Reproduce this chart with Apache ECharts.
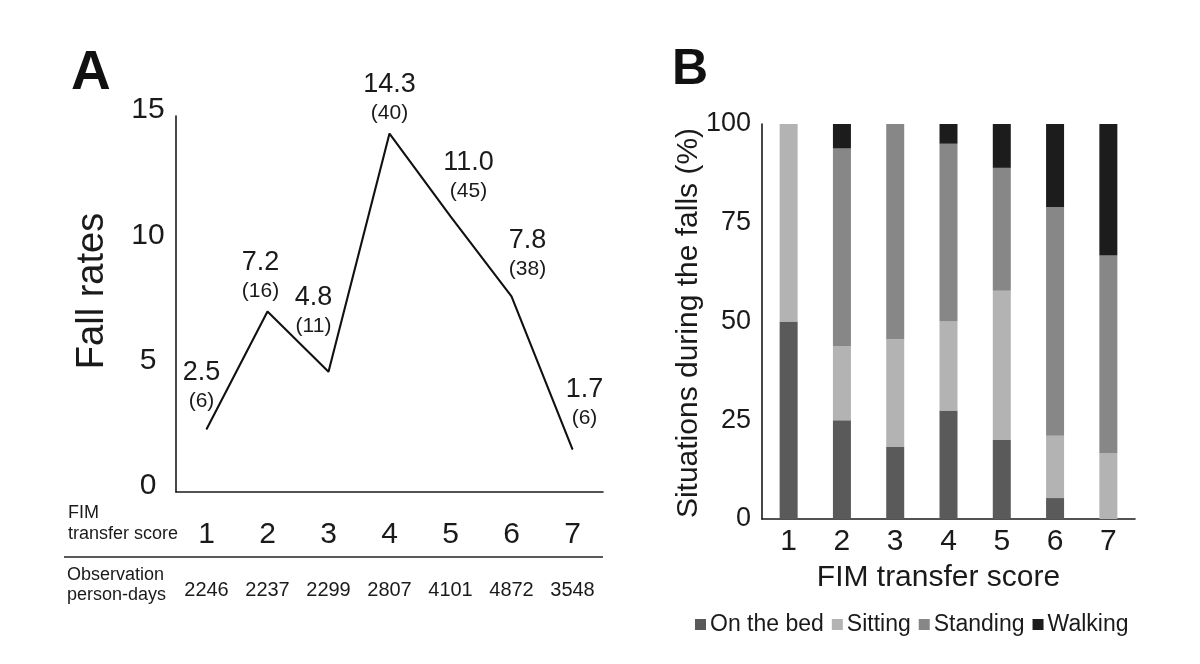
<!DOCTYPE html>
<html>
<head>
<meta charset="utf-8">
<script src="https://cdn.jsdelivr.net/npm/echarts@6/dist/echarts.min.js"></script>
<style>
html,body{margin:0;padding:0;background:#fff;}
#chart{width:1200px;height:664px;}
</style>
</head>
<body>
<div id="chart"></div>
<script>
// ---- Data ----
const categories = ['1', '2', '3', '4', '5', '6', '7'];
const fallRates = [2.5, 7.2, 4.8, 14.3, 11.0, 7.8, 1.7];
const fallCounts = [6, 16, 11, 40, 45, 38, 6];
const personDays = [2246, 2237, 2299, 2807, 4101, 4872, 3548];
const onTheBed = [50, 25, 18.2, 27.5, 20, 5.3, 0];
const sitting = [50, 18.8, 27.3, 22.5, 37.8, 15.8, 16.7];
const standing = [0, 50, 54.5, 45, 31.1, 57.9, 50];
const walking = [0, 6.2, 0, 5, 11.1, 21.0, 33.3];
const seriesNames = ['On the bed', 'Sitting', 'Standing', 'Walking'];

// ---- Styling ----
const FONT = 'Liberation Sans, Arial, sans-serif';
const INK = '#1a1a1a';
const colors = ['#5a5a5a', '#b3b3b3', '#878787', '#1c1c1c'];
const labelNudge = [[-5, -43], [-7, -35], [-15, -60], [0, -35], [18, -40], [16, -42], [12, -46]];

const chart = echarts.init(document.getElementById('chart'));

const option = {
  backgroundColor: '#fff',
  animation: false,
  textStyle: { fontFamily: FONT, color: INK },
  grid: [
    { left: 176, right: 597, top: 116, bottom: 172 },
    { left: 762, right: 65, top: 124, bottom: 145 }
  ],
  xAxis: [
    {
      gridIndex: 0, type: 'category', data: categories, boundaryGap: true,
      axisLine: { lineStyle: { color: INK, width: 1.6 } },
      axisTick: { show: false },
      axisLabel: { fontSize: 30, color: INK, margin: 28, fontFamily: FONT }
    },
    {
      gridIndex: 0, type: 'category', data: personDays.map(String), boundaryGap: true,
      position: 'bottom',
      axisLine: { show: false }, axisTick: { show: false },
      axisLabel: { fontSize: 20, color: INK, margin: 88, fontFamily: FONT }
    },
    {
      gridIndex: 1, type: 'category', data: categories, boundaryGap: true,
      axisLine: { lineStyle: { color: INK, width: 1.6 } },
      axisTick: { show: false },
      axisLabel: { fontSize: 30, color: INK, margin: 8, fontFamily: FONT },
      name: 'FIM transfer score', nameLocation: 'middle', nameGap: 44,
      nameTextStyle: { fontSize: 30, color: INK, fontFamily: FONT, padding: [0, 20, 0, 0] }
    }
  ],
  yAxis: [
    {
      gridIndex: 0, type: 'value', min: 0, max: 15, interval: 5,
      splitLine: { show: false },
      axisLine: { show: true, lineStyle: { color: INK, width: 1.6 } },
      axisTick: { show: false },
      axisLabel: {
        margin: 28, align: 'center',
        formatter: v => '{t|' + v + '}',
        rich: { t: { fontSize: 30, color: INK, fontFamily: FONT, padding: [0, 0, 12, 0] } }
      }
    },
    {
      gridIndex: 1, type: 'value', min: 0, max: 100, interval: 25,
      splitLine: { show: false },
      axisLine: { show: true, lineStyle: { color: INK, width: 1.6 } },
      axisTick: { show: false },
      axisLabel: { fontSize: 27, color: INK, margin: 11, fontFamily: FONT }
    }
  ],
  legend: {
    data: seriesNames, left: 690, top: 608, icon: 'rect',
    itemWidth: 11, itemHeight: 11, itemGap: 8,
    textStyle: { fontSize: 23, color: INK, fontFamily: FONT, padding: [0, 0, 0, -1] }
  },
  series: [
    {
      type: 'line', xAxisIndex: 0, yAxisIndex: 0,
      data: fallRates.map((v, i) => ({ value: v, label: { offset: labelNudge[i] } })),
      symbol: 'circle', symbolSize: 1, showSymbol: true,
      lineStyle: { color: '#111', width: 2.1 },
      itemStyle: { color: '#111' },
      label: {
        show: true, position: 'inside', align: 'center', verticalAlign: 'middle',
        formatter: p => '{a|' + fallRates[p.dataIndex].toFixed(1) + '}\n{b|(' + fallCounts[p.dataIndex] + ')}',
        rich: {
          a: { fontSize: 27, lineHeight: 30, color: INK, fontFamily: FONT, align: 'center' },
          b: { fontSize: 21, lineHeight: 28, color: INK, fontFamily: FONT, align: 'center' }
        }
      }
    },
    ...[onTheBed, sitting, standing, walking].map((arr, k) => ({
      name: seriesNames[k], type: 'bar', stack: 'falls',
      xAxisIndex: 2, yAxisIndex: 1,
      data: arr, barWidth: 18,
      itemStyle: { color: colors[k] }
    }))
  ],
  graphic: [
    { type: 'text', left: 71, top: 46, style: { text: 'A', font: 'bold 55px ' + FONT, fill: '#111' } },
    { type: 'text', left: 672, top: 45, style: { text: 'B', font: 'bold 50px ' + FONT, fill: '#111' } },
    { type: 'text', x: 93, y: 291, rotation: Math.PI / 2,
      style: { text: 'Fall rates', font: '38px ' + FONT, fill: INK, align: 'center', verticalAlign: 'middle' } },
    { type: 'text', x: 689, y: 323, rotation: Math.PI / 2,
      style: { text: 'Situations during the falls (%)', font: '30px ' + FONT, fill: INK, align: 'center', verticalAlign: 'middle' } },
    { type: 'text', left: 68, top: 503, style: { text: 'FIM\ntransfer score', font: '18px ' + FONT, fill: INK, lineHeight: 21 } },
    { type: 'text', left: 67, top: 565, style: { text: 'Observation\nperson-days', font: '18px ' + FONT, fill: INK, lineHeight: 20 } },
    { type: 'line', shape: { x1: 64, y1: 557, x2: 603, y2: 557 }, style: { stroke: '#222', lineWidth: 1.5 } }
  ]
};

chart.setOption(option);
</script>
</body>
</html>
